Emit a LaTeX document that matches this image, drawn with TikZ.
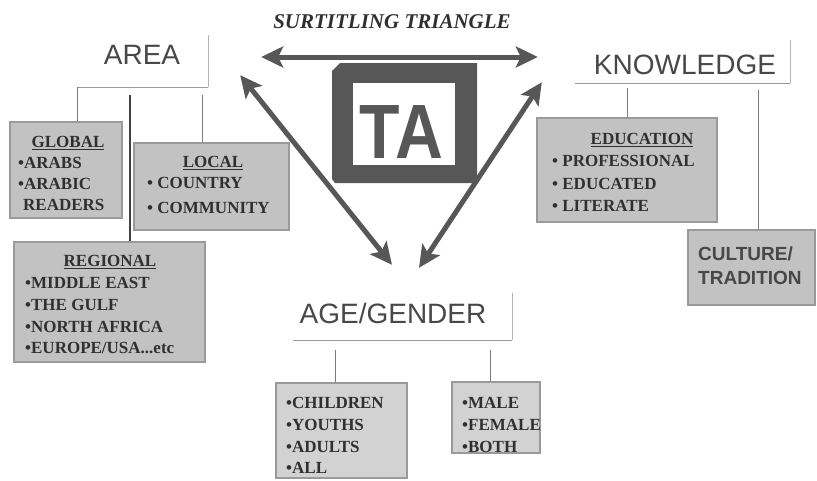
\documentclass[tikz,border=0pt]{standalone}
\usepackage{fontspec}
\setmainfont{Liberation Serif}
\setsansfont{Liberation Sans}
\usepackage{graphicx}
\usetikzlibrary{arrows.meta,calc}
\definecolor{arrowgrey}{HTML}{575757}
\definecolor{boxfill}{HTML}{C2C2C2}
\definecolor{boxfilllight}{HTML}{D2D2D2}
\definecolor{boxedge}{HTML}{9A9A9A}
\definecolor{headtext}{HTML}{484848}
\definecolor{itemtext}{HTML}{303030}
\definecolor{treeline}{HTML}{7C7C7C}
\definecolor{labeledge}{HTML}{B4B4B4}
\begin{document}
\begin{tikzpicture}[x=1pt,y=-1pt,
  greybox/.style={draw=boxedge, line width=1.5pt, fill=boxfill, inner sep=0pt},
  lightbox/.style={greybox, fill=boxfilllight},
  labelbox/.style={inner sep=0pt},
  labeltext/.style={font=\sffamily\fontsize{28}{28}\selectfont, text=headtext, inner sep=0pt},
  headtxt/.style={font=\bfseries\fontsize{17}{17}\selectfont, text=itemtext, inner sep=0pt},
  itemlist/.style={font=\bfseries\fontsize{17}{#1}\selectfont, text=itemtext, align=left, inner sep=0pt, anchor=base west},
  tree/.style={draw=treeline, line width=1pt},
  bigarrow/.style={draw=arrowgrey, line width=5pt, {Stealth[length=22pt,width=21pt,inset=5pt]}-{Stealth[length=22pt,width=21pt,inset=5pt]}}
]
\useasboundingbox (0,0) rectangle (817,480);

% title
\node[font=\bfseries\itshape\fontsize{21}{21}\selectfont, text=itemtext, inner sep=0pt] (title) at (392,22) {SURTITLING TRIANGLE};

% label boxes
\node[labelbox, minimum width=130, minimum height=52] (area) at (143,61) {};
\node[labelbox, minimum width=215, minimum height=43] (knowledge) at (682.5,61.5) {};
\node[labelbox, minimum width=219, minimum height=47] (age) at (402.5,316.5) {};
\draw[labeledge, line width=1pt] (area.north east) -- (area.south east);
\draw[boxedge, line width=1.2pt] (area.south east) -- (area.south west);
\draw[labeledge, line width=1pt] (knowledge.north east) -- (knowledge.south east);
\draw[boxedge, line width=1.2pt] (knowledge.south east) -- (knowledge.south west);
\draw[labeledge, line width=1pt] (age.north east) -- (age.south east);
\draw[boxedge, line width=1.2pt] (age.south east) -- (age.south west);
\node[labeltext] (areat) at (142,55) {AREA};
\node[labeltext] (knowledget) at (685,65) {KNOWLEDGE};
\node[labeltext] (aget) at (393,313) {AGE/GENDER};

% grey boxes
\node[greybox, minimum width=112, minimum height=96] (global) at (66,170) {};
\node[greybox, minimum width=155, minimum height=87] (local) at (211.5,186.5) {};
\node[greybox, minimum width=191, minimum height=120] (regional) at (109.5,302) {};
\node[greybox, minimum width=180, minimum height=104] (education) at (627,170) {};
\node[greybox, minimum width=127, minimum height=75] (culture) at (751.5,267.5) {};
\node[lightbox, minimum width=131, minimum height=95] (children) at (341.5,430.5) {};
\node[lightbox, minimum width=88, minimum height=71] (male) at (496,417.5) {};

% headers
\node[headtxt] (globalh) at (68,143) {\underline{GLOBAL}};
\node[headtxt] (localh) at (213,163) {\underline{LOCAL}};
\node[headtxt] (regionalh) at (110,262) {\underline{REGIONAL}};
\node[headtxt] (educationh) at (642,140) {\underline{EDUCATION}};

% item lists (anchored at the baseline of the last line)
\node[itemlist=21] (globall) at (18,210.6) {•ARABS\\•ARABIC\\\hspace*{5pt}READERS};
\node[itemlist=25] (locall) at (147,213.6) {• COUNTRY\\• COMMUNITY};
\node[itemlist=21.7] (regionall) at (25,353.7) {•MIDDLE EAST\\•THE GULF\\•NORTH AFRICA\\•EUROPE/USA...etc};
\node[itemlist=22.5] (educationl) at (552,211.6) {• PROFESSIONAL\\• EDUCATED\\• LITERATE};
\node[font=\sffamily\bfseries\fontsize{19}{24}\selectfont, text=headtext, align=left, inner sep=0pt, anchor=base west] (culturel) at (698,284.8) {CULTURE/\\TRADITION};
\node[itemlist=21.7] (childrenl) at (286,473.7) {•CHILDREN\\•YOUTHS\\•ADULTS\\•ALL};
\node[itemlist=22] (malel) at (462,452.6) {•MALE\\•FEMALE\\•BOTH};

% tree lines
\draw[tree] (area.south west) -- (area.south west |- global.north);
\draw[tree, draw=black!75, line width=1.4pt] ($(regional.north |- area.south)+(20.5,8)$) -- ($(regional.north)+(20.5,0)$);
\draw[tree] ($(local.north |- area.south)+(-9.5,8)$) -- ($(local.north)+(-9.5,0)$);
\draw[tree] ($(education.north |- knowledge.south)+(0,5)$) -- (education.north);
\draw[tree] ($(culture.north |- knowledge.south)+(6.5,7)$) -- ($(culture.north)+(6.5,0)$);
\draw[tree] ($(children.north |- age.south)+(-6.5,10)$) -- ($(children.north)+(-6.5,0)$);
\draw[tree] ($(male.north |- age.south)+(-6,10)$) -- ($(male.north)+(-6,0)$);

% TA box
\fill[arrowgrey] (340,63) -- (477,63) -- (477,183) -- (335,183) -- (332,179) -- (332,71) -- cycle;
\node[fill=white, inner sep=0pt, minimum width=102, minimum height=82] (tainner) at (404,124) {};
\node[font=\sffamily\bfseries\fontsize{77}{77}\selectfont, text=arrowgrey, inner sep=0pt] (ta) at (401.5,132.5) {\scalebox{0.86}[1]{TA}};

% arrows
\draw[bigarrow] ($(area.east)+(53,-4)$) -- ($(knowledge.west)+(-37,-4.5)$);
\draw[bigarrow] ($(area.south east)+(32,-12)$) -- ($(age.north)+(-10.5,-28)$);
\draw[bigarrow] ($(knowledge.south west)+(-33,-1)$) -- ($(age.north)+(16.5,-25)$);
\end{tikzpicture}
\end{document}
